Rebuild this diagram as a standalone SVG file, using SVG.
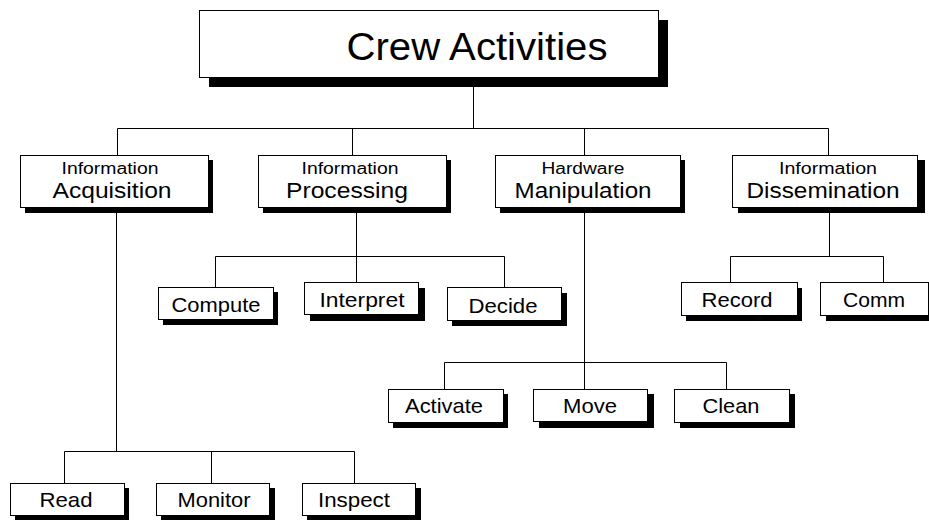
<svg xmlns="http://www.w3.org/2000/svg" width="929" height="520" viewBox="0 0 929 520">
  <style>
    .box { fill: #fff; stroke: #000; stroke-width: 1; }
    .shadow { fill: #000; }
    .conn { fill: none; stroke: #000; stroke-width: 1; }
    text { font-family: "Liberation Sans", Arial, Helvetica, sans-serif; fill: #000; text-anchor: middle; }
    .t0 { font-size: 39px; }
    .t1a { font-size: 16px; }
    .t1b { font-size: 22px; }
    .t2 { font-size: 21px; }
  </style>
  <rect width="929" height="520" fill="#fff"/>

  <!-- connectors -->
  <g id="connectors" class="conn">
    <path d="M473.5 87 V128.5 M117.5 128.5 H828.5 M117.5 128.5 V155 M352.5 128.5 V155 M584.5 128.5 V155 M828.5 128.5 V155"/>
    <path d="M116.5 213 V451.5 M64.5 451.5 H354.5 M64.5 451.5 V483 M211.5 451.5 V483 M354.5 451.5 V483"/>
    <path d="M356.5 213 V282 M215.5 256.5 H504.5 M215.5 256.5 V287 M504.5 256.5 V287"/>
    <path d="M584.5 213 V389 M444.5 362.5 H726.5 M444.5 362.5 V389 M726.5 362.5 V389"/>
    <path d="M829.5 213 V256.5 M730.5 256.5 H883.5 M730.5 256.5 V282 M883.5 256.5 V282"/>
  </g>

  <!-- root -->
  <g id="crew-activities">
    <rect class="shadow" x="209" y="20" width="459" height="67"/>
    <rect class="box" x="199.5" y="10.5" width="459" height="67"/>
    <text class="t0" x="477" y="60" textLength="261" lengthAdjust="spacingAndGlyphs">Crew Activities</text>
  </g>

  <!-- first level -->
  <g id="info-acquisition">
    <rect class="shadow" x="25" y="160" width="188" height="53"/>
    <rect class="box" x="20.5" y="155.5" width="188" height="52"/>
    <text class="t1a" x="110" y="174" textLength="97" lengthAdjust="spacingAndGlyphs">Information</text>
    <text class="t1b" x="112" y="198" textLength="119" lengthAdjust="spacingAndGlyphs">Acquisition</text>
  </g>
  <g id="info-processing">
    <rect class="shadow" x="263" y="160" width="188" height="53"/>
    <rect class="box" x="258.5" y="155.5" width="188" height="52"/>
    <text class="t1a" x="350" y="174" textLength="97" lengthAdjust="spacingAndGlyphs">Information</text>
    <text class="t1b" x="347" y="198" textLength="122" lengthAdjust="spacingAndGlyphs">Processing</text>
  </g>
  <g id="hardware-manipulation">
    <rect class="shadow" x="500" y="160" width="185" height="53"/>
    <rect class="box" x="495.5" y="155.5" width="185" height="52"/>
    <text class="t1a" x="583" y="174" textLength="83" lengthAdjust="spacingAndGlyphs">Hardware</text>
    <text class="t1b" x="583" y="198" textLength="137" lengthAdjust="spacingAndGlyphs">Manipulation</text>
  </g>
  <g id="info-dissemination">
    <rect class="shadow" x="738" y="160" width="187" height="53"/>
    <rect class="box" x="732.5" y="155.5" width="185" height="52"/>
    <text class="t1a" x="828" y="174" textLength="98" lengthAdjust="spacingAndGlyphs">Information</text>
    <text class="t1b" x="823" y="198" textLength="153" lengthAdjust="spacingAndGlyphs">Dissemination</text>
  </g>

  <!-- processing tasks -->
  <g id="compute">
    <rect class="shadow" x="163" y="292" width="115" height="33"/>
    <rect class="box" x="158.5" y="287.5" width="115" height="32"/>
    <text class="t2" x="216" y="312" textLength="89" lengthAdjust="spacingAndGlyphs">Compute</text>
  </g>
  <g id="interpret">
    <rect class="shadow" x="310" y="288" width="115" height="33"/>
    <rect class="box" x="304.5" y="282.5" width="114" height="32"/>
    <text class="t2" x="362" y="307" textLength="85" lengthAdjust="spacingAndGlyphs">Interpret</text>
  </g>
  <g id="decide">
    <rect class="shadow" x="452" y="293" width="115" height="33"/>
    <rect class="box" x="447.5" y="287.5" width="114" height="33"/>
    <text class="t2" x="503" y="313" textLength="69" lengthAdjust="spacingAndGlyphs">Decide</text>
  </g>

  <!-- dissemination tasks -->
  <g id="record">
    <rect class="shadow" x="686" y="288" width="116" height="33"/>
    <rect class="box" x="681.5" y="282.5" width="116" height="33"/>
    <text class="t2" x="737" y="307" textLength="71" lengthAdjust="spacingAndGlyphs">Record</text>
  </g>
  <g id="comm">
    <rect class="shadow" x="826" y="288" width="115" height="33"/>
    <rect class="box" x="820.5" y="282.5" width="108" height="33"/>
    <text class="t2" x="874" y="307" textLength="62" lengthAdjust="spacingAndGlyphs">Comm</text>
  </g>

  <!-- manipulation tasks -->
  <g id="activate">
    <rect class="shadow" x="393" y="394" width="115" height="34"/>
    <rect class="box" x="388.5" y="389.5" width="115" height="33"/>
    <text class="t2" x="444" y="413" textLength="78" lengthAdjust="spacingAndGlyphs">Activate</text>
  </g>
  <g id="move">
    <rect class="shadow" x="539" y="394" width="115" height="34"/>
    <rect class="box" x="533.5" y="389.5" width="114" height="32"/>
    <text class="t2" x="590" y="413" textLength="54" lengthAdjust="spacingAndGlyphs">Move</text>
  </g>
  <g id="clean">
    <rect class="shadow" x="680" y="394" width="115" height="34"/>
    <rect class="box" x="674.5" y="389.5" width="115" height="33"/>
    <text class="t2" x="731" y="413" textLength="57" lengthAdjust="spacingAndGlyphs">Clean</text>
  </g>

  <!-- acquisition tasks -->
  <g id="read">
    <rect class="shadow" x="15" y="488" width="114" height="33"/>
    <rect class="box" x="10.5" y="483.5" width="114" height="32"/>
    <text class="t2" x="66" y="507" textLength="53" lengthAdjust="spacingAndGlyphs">Read</text>
  </g>
  <g id="monitor">
    <rect class="shadow" x="161" y="488" width="114" height="33"/>
    <rect class="box" x="156.5" y="483.5" width="113" height="32"/>
    <text class="t2" x="214" y="507" textLength="73" lengthAdjust="spacingAndGlyphs">Monitor</text>
  </g>
  <g id="inspect">
    <rect class="shadow" x="307" y="488" width="114" height="33"/>
    <rect class="box" x="302.5" y="483.5" width="113" height="32"/>
    <text class="t2" x="354" y="507" textLength="72" lengthAdjust="spacingAndGlyphs">Inspect</text>
  </g>
</svg>
